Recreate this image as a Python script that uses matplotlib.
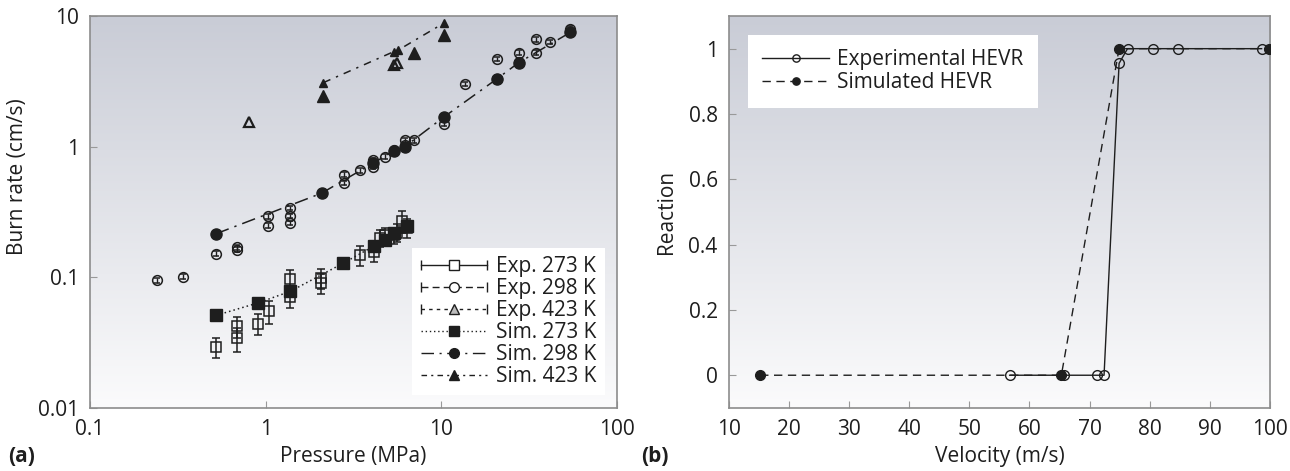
"""Burn rate vs pressure (a) and HEVR reaction vs velocity (b)."""

import matplotlib.pyplot as plt
import numpy as np
from matplotlib.colors import LinearSegmentedColormap
from matplotlib.legend_handler import HandlerLine2D, HandlerTuple
from matplotlib.lines import Line2D

plt.rcParams["font.family"] = ["Open Sans", "DejaVu Sans"]

# ---- (a) burn rate data (MPa, cm/s) ----
exp273_p = [0.52, 0.69, 0.69, 0.90, 1.04, 1.38, 1.38, 2.07, 2.07, 3.45, 4.15, 4.5, 4.8, 5.4, 5.6, 5.95, 6.4]
exp273_r = [0.029, 0.034, 0.042, 0.044, 0.055, 0.071, 0.097, 0.090, 0.098, 0.148, 0.157, 0.20, 0.21, 0.21, 0.22, 0.27, 0.24]
exp273_err = [0.005, 0.007, 0.008, 0.008, 0.011, 0.013, 0.017, 0.016, 0.017, 0.025, 0.025, 0.03, 0.03, 0.03, 0.035, 0.05, 0.04]

exp298_p = [0.24, 0.34, 0.52, 0.69, 0.69, 1.03, 1.03, 1.38, 1.38, 1.38, 2.78, 2.78, 3.46, 4.1, 4.1,
            4.78, 5.4, 6.2, 6.2, 6.95, 10.3, 13.7, 20.7, 20.7, 27.6, 27.6, 34.7, 34.7, 41.8, 54.3]
exp298_r = [0.095, 0.101, 0.152, 0.162, 0.170, 0.248, 0.292, 0.26, 0.294, 0.34, 0.53, 0.61, 0.66, 0.70, 0.79,
            0.84, 0.94, 1.03, 1.12, 1.12, 1.49, 3.02, 3.3, 4.69, 4.47, 5.24, 5.24, 6.64, 6.36, 8.0]
exp298_err = [0.004, 0.004, 0.006, 0.007, 0.007, 0.01, 0.012, 0.01, 0.012, 0.014, 0.02, 0.025, 0.027, 0.028, 0.03,
              0.034, 0.04, 0.04, 0.045, 0.045, 0.06, 0.12, 0.13, 0.19, 0.18, 0.21, 0.21, 0.27, 0.25, 0.32]

exp423_p = [0.8, 5.35, 5.6]
exp423_r = [1.55, 4.2, 4.4]
exp423_dark_p = [2.13, 6.95, 10.3]
exp423_dark_r = [2.44, 5.18, 7.15]

sim273_p = [0.52, 0.90, 1.38, 2.76, 4.15, 4.8, 5.4, 6.4]
sim273_r = [0.051, 0.0635, 0.078, 0.128, 0.174, 0.193, 0.217, 0.245]

sim298_p = [0.52, 2.08, 4.1, 5.4, 6.2, 10.3, 20.7, 27.6, 54.3]
sim298_r = [0.215, 0.44, 0.75, 0.93, 1.0, 1.68, 3.3, 4.4, 7.5]

sim423_p = [2.13, 5.35, 5.7, 10.3]
sim423_r = [3.09, 5.33, 5.5, 8.8]

a_ticks = [0.01, 0.1, 1, 10]
a_ticklabels = ["0.01", "0.1", "1", "10"]
a_xticks = [0.1, 1, 10, 100]
a_xticklabels = ["0.1", "1", "10", "100"]

# ---- (b) HEVR data ----
exp_v = [56.7, 65.7, 71.2, 72.4, 74.9, 76.3, 80.5, 84.7, 98.6]
exp_reac = [0, 0, 0, 0, 0.955, 1, 1, 1, 1]
sim_v = [15.2, 65.3, 74.9, 99.9]
sim_reac = [0, 0, 1, 1]

b_yticks = [0, 0.2, 0.4, 0.6, 0.8, 1]
b_yticklabels = ["0", "0.2", "0.4", "0.6", "0.8", "1"]

BG = LinearSegmentedColormap.from_list("bg", ["#c9ccd6", "#fbfbfc"])
SPINE = "#8c8c8c"
INK = "#1e1e1e"
FS = 15


def gradient(ax):
    grad = np.linspace(0, 1, 256).reshape(-1, 1)
    ax.imshow(grad, cmap=BG, aspect="auto", extent=(0, 1, 0, 1),
              transform=ax.transAxes, zorder=-5, interpolation="bilinear")


def style(ax):
    for s in ax.spines.values():
        s.set_color(SPINE)
        s.set_linewidth(1.2)
    ax.tick_params(direction="in", length=5, color="#999999", labelsize=FS,
                   labelcolor=INK, pad=8, which="major")
    ax.tick_params(which="minor", length=0)


fig = plt.figure(figsize=(12.9, 4.71), dpi=100)
ax1 = fig.add_axes([0.0698, 0.134, 0.4085, 0.832])
ax2 = fig.add_axes([0.565, 0.134, 0.4195, 0.832])

# ---------------- panel (a) ----------------
gradient(ax1)
ax1.set_xscale("log")
ax1.set_yscale("log")

ax1.errorbar(exp273_p, exp273_r, yerr=exp273_err, fmt="s", ms=7, mfc="none", mec=INK,
             mew=1.1, ecolor=INK, elinewidth=1.1, capsize=3, zorder=3)
ax1.errorbar(exp298_p, exp298_r, yerr=exp298_err, fmt="o", ms=7, mfc="none", mec=INK,
             mew=1.1, ecolor=INK, elinewidth=1.0, capsize=2, zorder=3)
ax1.plot(exp423_p, exp423_r, "^", ms=7, mfc="none", mec=INK, mew=1.6, zorder=3)
ax1.plot(exp423_dark_p, exp423_dark_r, "^", ms=8, mfc=INK, mec=INK, zorder=3)

ax1.plot(sim273_p, sim273_r, ls=(0, (1, 2)), color=INK, lw=1.1, marker="s", ms=8,
         mfc=INK, mec=INK, zorder=4)
ax1.plot(sim298_p, sim298_r, ls=(0, (9, 4, 1.5, 4)), color=INK, lw=1.1, marker="o", ms=8,
         mfc=INK, mec=INK, zorder=4)
ax1.plot(sim423_p, sim423_r, ls=(0, (5, 4, 1.5, 4)), color=INK, lw=1.1, marker="^", ms=6,
         mfc=INK, mec=INK, zorder=4)

ax1.set_xlim(0.1, 100)
ax1.set_ylim(0.01, 10)
ax1.set_xticks(a_xticks)
ax1.set_xticklabels(a_xticklabels)
ax1.set_yticks(a_ticks)
ax1.set_yticklabels(a_ticklabels)
style(ax1)
ax1.set_xlabel("Pressure (MPa)", fontsize=FS, color=INK, labelpad=4)
ax1.set_ylabel("Burn rate (cm/s)", fontsize=FS, color=INK)
ax1.yaxis.set_label_coords(-0.118, 0.59)


def exp_handle(ls, marker, mfc="none"):
    line = Line2D([], [], ls=ls, color=INK, lw=1.0)
    caps = Line2D([], [], ls="none", marker="|", ms=7, mew=1.0, color=INK)
    mark = Line2D([], [], ls="none", marker=marker, ms=7, mfc=mfc, mec=INK, mew=1.0)
    return (line, caps, mark), caps


handles = []
cap_map = {}
for ls, mk, mfc in [("-", "s", "white"), ((0, (5, 3)), "o", "white"), ((0, (2.5, 3)), "^", "#bbbbbb")]:
    h, caps = exp_handle(ls, mk, mfc)
    handles.append(h)
    cap_map[caps] = HandlerLine2D(numpoints=2, marker_pad=0)
for ls, mk in [((0, (1, 2)), "s"), ((0, (9, 4, 1.5, 4)), "o"), ((0, (4, 3, 1.5, 3)), "^")]:
    handles.append(Line2D([], [], ls=ls, color=INK, lw=1.0, marker=mk, ms=7, mfc=INK, mec=INK))
labels = ["Exp. 273 K", "Exp. 298 K", "Exp. 423 K", "Sim. 273 K", "Sim. 298 K", "Sim. 423 K"]
handler_map = {tuple: HandlerTuple(ndivide=1, pad=0)}
handler_map.update(cap_map)
leg1 = ax1.legend(handles, labels, loc="lower right", fontsize=FS, handlelength=3.2,
                  handletextpad=0.4, labelspacing=0.05, borderaxespad=0.6, borderpad=0.4,
                  fancybox=False, framealpha=1, edgecolor="white", handler_map=handler_map,
                  numpoints=1)
leg1.get_frame().set_linewidth(0)
for t in leg1.get_texts():
    t.set_color(INK)

# ---------------- panel (b) ----------------
gradient(ax2)
ax2.plot(exp_v, exp_reac, "-", color=INK, lw=1.0, marker="o", ms=7, mfc="none",
         mec=INK, mew=1.0, label="Experimental HEVR", zorder=3)
ax2.plot(sim_v, sim_reac, ls=(0, (6, 4)), color=INK, lw=1.0, marker="o", ms=7, mfc=INK,
         mec=INK, label="Simulated HEVR", zorder=4)
ax2.set_xlim(10, 100)
ax2.set_ylim(-0.1, 1.1)
ax2.set_xticks(range(10, 101, 10))
ax2.set_yticks(b_yticks)
ax2.set_yticklabels(b_yticklabels)
style(ax2)
ax2.set_xlabel("Velocity (m/s)", fontsize=FS, color=INK, labelpad=4)
ax2.set_ylabel("Reaction", fontsize=FS, color=INK, labelpad=8)
leg2 = ax2.legend(loc="upper left", fontsize=FS, handlelength=3.2, handletextpad=0.4,
                  labelspacing=0.1, borderaxespad=0.9, borderpad=0.7, fancybox=False,
                  framealpha=1, edgecolor="white", markerscale=0.75)
leg2.get_frame().set_linewidth(0)
for t in leg2.get_texts():
    t.set_color(INK)

fig.text(0.006, 0.02, "(a)", fontsize=FS, fontweight="bold", color=INK)
fig.text(0.497, 0.02, "(b)", fontsize=FS, fontweight="bold", color=INK)

fig.savefig("out.png", dpi=100)
